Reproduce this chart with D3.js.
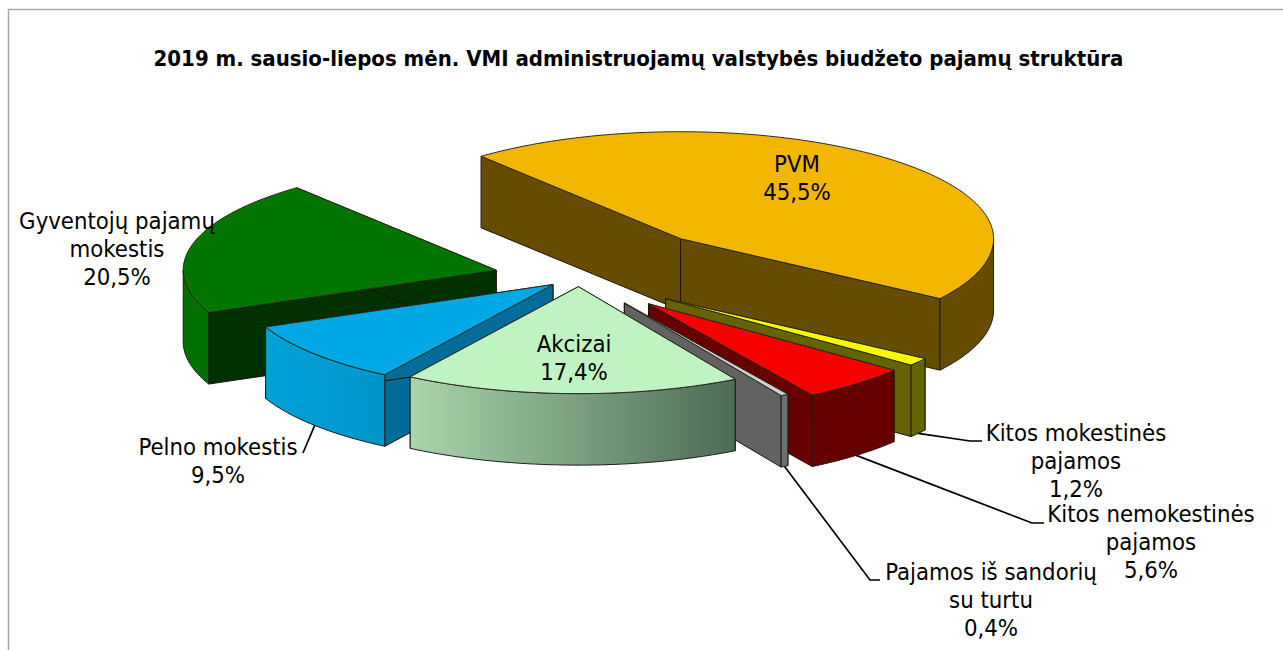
<!DOCTYPE html>
<html>
<head>
<meta charset="utf-8">
<script src="https://cdn.jsdelivr.net/npm/d3@7"></script>
<style>
  html, body { margin: 0; padding: 0; background: #fff; overflow: hidden; }
  text { font-family: "DejaVu Sans", sans-serif; font-stretch: condensed; fill: #000; }
</style>
</head>
<body>
<svg id="chart" width="1283" height="650"></svg>
<script>
// Data
const title = '2019 m. sausio-liepos mėn. VMI administruojamų valstybės biudžeto pajamų struktūra'
const categories = [
  ['PVM'],
  ['Kitos mokestinės', 'pajamos'],
  ['Kitos nemokestinės', 'pajamos'],
  ['Pajamos iš sandorių', 'su turtu'],
  ['Akcizai'],
  ['Pelno mokestis'],
  ['Gyventojų pajamų', 'mokestis']
]
const shares = [45.5, 1.2, 5.6, 0.4, 17.4, 9.5, 20.5]
const explosion = [0.483, 0.343, 0.335, 0.283, 0.09, 0.109, 0.272]

// Colours per slice
const topColors = ['#f3b600', '#f7f700', '#f80000', '#cfcfcf', '#bff4c2', '#00a9e6', '#007500']
const sideColors = ['#664c00', '#636400', '#660000', '#626262', '#6f8f74', '#006c97', '#003000']
const wallFrom = ['#664c00', '#636400', '#660000', '#6e6e6e', '#a9d5ad', '#00a0da', '#007000']
const wallTo = ['#664c00', '#636400', '#660000', '#6e6e6e', '#4e6b54', '#0095ca', '#007000']

// Label placement: centre x, first baseline, leader points
const labelX = [797, 1076, 1151, 991, 574, 218, 117]
const labelY = [172, 441, 522, 580, 352, 455, 229]
const elbows = [null, [[970, 441], [982, 441]], [[1032, 523], [1044, 523]], [[870, 580], [880, 580]], null, [[303, 453]], null]

const cx = 579
const cy = 277
const rx = 313
const ry = 107
const depth = 71.5
const lineGap = 28

const svg = d3.select('#chart')
const defs = svg.append('defs')

// Frame of the chart area
svg.append('path')
  .attr('d', 'M8.5,650V9.5H1283')
  .attr('fill', 'none')
  .attr('stroke', '#a6a6a6')
  .attr('stroke-width', 1.5)

svg.append('text')
  .attr('x', 638.5)
  .attr('y', 66)
  .attr('text-anchor', 'middle')
  .style('font-size', '22px')
  .style('font-weight', 'bold')
  .text(title)

const pie = d3.pie()
  .sort(null)
  .startAngle((-39.6 * Math.PI) / 180)
  .endAngle(((360 - 39.6) * Math.PI) / 180)

const arcs = pie(shares).map((d, i) => {
  let mid = (d.startAngle + d.endAngle) / 2
  return {
    i: i,
    a0: d.startAngle,
    a1: d.endAngle,
    mid: mid,
    ox: cx + explosion[i] * rx * Math.sin(mid),
    oy: cy - explosion[i] * ry * Math.cos(mid)
  }
})

function rim(s, a, drop) {
  return [s.ox + rx * Math.sin(a), s.oy - ry * Math.cos(a) + (drop || 0)]
}

function arcPoints(a0, a1, s, drop) {
  let n = Math.max(2, Math.ceil(Math.abs(a1 - a0) * 60))
  return d3.range(n + 1).map((k) => rim(s, a0 + ((a1 - a0) * k) / n, drop))
}

const line = d3.line()

function drawSlice(g, s) {
  // Radial side faces
  ;[s.a0, s.a1].forEach((a) => {
    let apex = [s.ox, s.oy]
    g.append('path')
      .attr('d', line([apex, rim(s, a), rim(s, a, depth), [s.ox, s.oy + depth]]) + 'Z')
      .attr('fill', sideColors[s.i])
      .attr('stroke', '#1c1400')
      .attr('stroke-width', 1)
  })

  // Outer wall: only the part of the rim that faces the viewer
  let halfPi = Math.PI / 2
  let w0 = Math.max(s.a0, halfPi)
  let w1 = Math.min(s.a1, 3 * halfPi)
  if (w1 > w0) {
    let pts = arcPoints(w0, w1, s, 0)
    let xs = d3.extent(pts, (p) => p[0])
    let id = 'wall' + s.i
    // gradient runs left to right on the screen
    let grad = defs.append('linearGradient')
      .attr('id', id)
      .attr('gradientUnits', 'userSpaceOnUse')
      .attr('x1', xs[0])
      .attr('x2', xs[1])
      .attr('y1', 0)
      .attr('y2', 0)
    grad.append('stop').attr('offset', 0).attr('stop-color', wallFrom[s.i])
    grad.append('stop').attr('offset', 1).attr('stop-color', wallTo[s.i])
    let back = arcPoints(w1, w0, s, depth)
    g.append('path')
      .attr('d', line(pts.concat(back)) + 'Z')
      .attr('fill', `url(#${id})`)
      .attr('stroke', '#1c1c1c')
      .attr('stroke-width', 1)
  }

  // Top face
  g.append('path')
    .attr('d', line([[s.ox, s.oy]].concat(arcPoints(s.a0, s.a1, s, 0))) + 'Z')
    .attr('fill', topColors[s.i])
    .attr('stroke', '#2a2a1a')
    .attr('stroke-width', 1)
}

// Painter's order, back to front
const drawOrder = [0, 1, 2, 3, 6, 5, 4]
const slices = svg.append('g').attr('class', 'slices')
drawOrder.forEach((i) => {
  drawSlice(slices.append('g').attr('class', 'slice'), arcs[i])
})

// Leader lines start at the bottom of the rim, at the middle of the slice
arcs.forEach((s) => {
  if (!elbows[s.i]) return
  svg.append('path')
    .attr('d', line([rim(s, s.mid, depth)].concat(elbows[s.i])))
    .attr('fill', 'none')
    .attr('stroke', '#000')
    .attr('stroke-width', 1.7)
})

// Labels
categories.forEach((lines, i) => {
  let label = svg.append('text')
    .attr('text-anchor', 'middle')
    .style('font-size', '23.7px')
  lines.concat([shares[i].toFixed(1).replace('.', ',') + '%']).forEach((t, k) => {
    label.append('tspan')
      .attr('x', labelX[i])
      .attr('y', labelY[i] + k * lineGap)
      .text(t)
  })
})
</script>
</body>
</html>
